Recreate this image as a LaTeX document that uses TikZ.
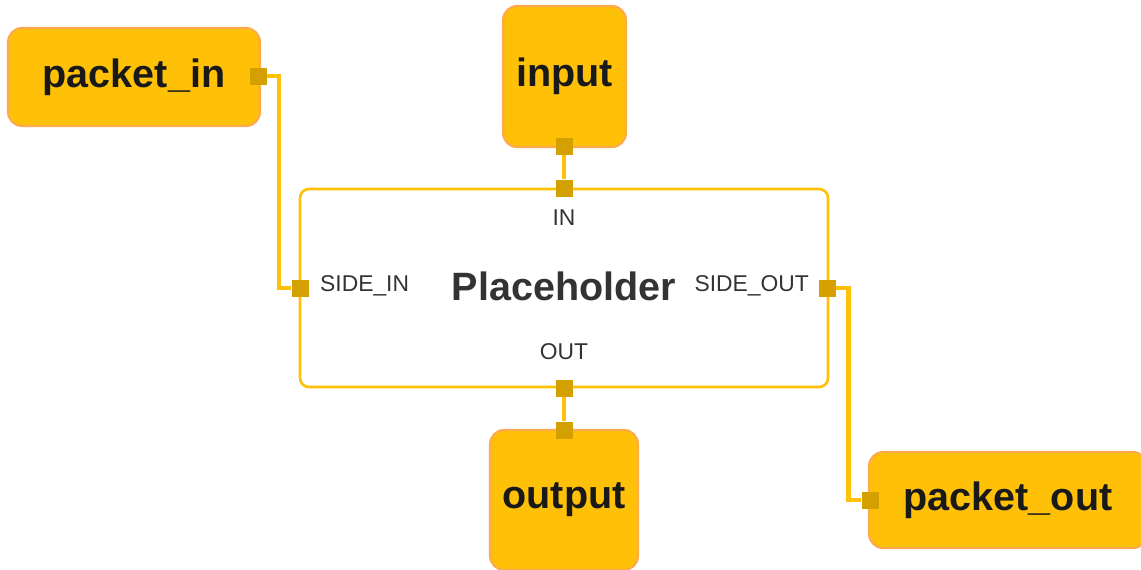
\documentclass[tikz,border=0pt]{standalone}
\usepackage{fontspec}
\setmainfont{Liberation Sans}
\usetikzlibrary{calc}
\definecolor{amber}{HTML}{FFC107}
\definecolor{amberedge}{HTML}{FFA94D}
\definecolor{portgold}{HTML}{D4A000}
\definecolor{labelgray}{HTML}{333333}
\tikzset{
  stream/.style={draw=amberedge, line width=1.2pt, fill=amber, rounded corners=8pt,
    font=\fontsize{22.5}{26}\selectfont\bfseries, text=black!90},
  calc box/.style={draw=amber, line width=1.5pt, fill=white, rounded corners=5pt,
    minimum width=10.56cm, minimum height=3.96cm},
  port/.style={fill=portgold, inner sep=0pt, minimum size=0.34cm},
  port label/.style={font=\fontsize{13}{15}\selectfont, text=labelgray},
  wire/.style={draw=amber, line width=2.8pt}
}
\begin{document}
\begin{tikzpicture}[x=0.02cm, y=-0.02cm]
\useasboundingbox (0,0) rectangle (1141,569);

% the calculator in the middle
\node[calc box] (calc) at (564,288) {};
\node[font=\fontsize{22.5}{26}\selectfont\bfseries, text=labelgray] (name) at (564,286) {Placeholder};

% streams and side packets around it
\node[stream, minimum width=5.04cm, minimum height=1.96cm] (packetin) at (134,77) {packet\_in};
\node[stream, minimum width=2.46cm, minimum height=2.82cm] (input) at (564.5,76.5) {input};
\node[stream, minimum width=2.96cm, minimum height=2.8cm] (output) at (564,500) {output};
\node[stream, minimum width=5.56cm, minimum height=1.92cm] (packetout) at (1008,500) {packet\_out};

% labels of the calculator ports
\node[port label] (inlabel) at (564,218) {IN};
\node[port label] (outlabel) at (564,352) {OUT};
\node[port label, anchor=west] (sideinlabel) at (314,286) {SIDE\_IN};
\node[port label, anchor=east] (sideoutlabel) at (815,286) {SIDE\_OUT};

% port squares
\node[port] (pinport) at (258,76) {};
\node[port] (inputport) at (564,146) {};
\node[port] (inport) at (564,188) {};
\node[port] (sideinport) at (300,288) {};
\node[port] (sideoutport) at (827,288) {};
\node[port] (outport) at (564,388) {};
\node[port] (outputport) at (564,430) {};
\node[port] (poutport) at (870,500) {};

% connections
\draw[wire] (inputport) -- (inport);
\draw[wire] (outport) -- (outputport);
\draw[wire] (pinport) -| ($(pinport)!.5!(sideinport)$) |- (sideinport);
\draw[wire] (sideoutport) -| ($(sideoutport)!.5!(poutport)$) |- (poutport);
\end{tikzpicture}
\end{document}
